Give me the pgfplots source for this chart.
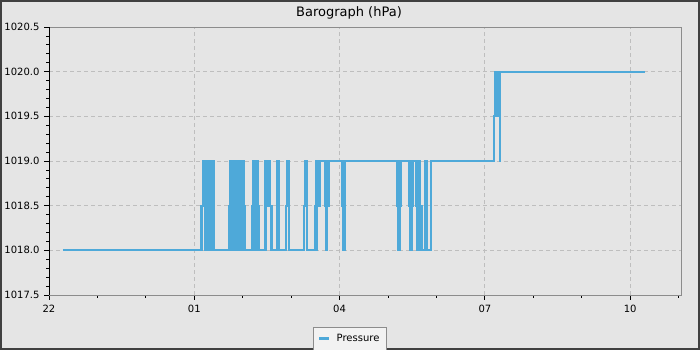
\documentclass[border=0pt]{standalone}
\usepackage{pgfplots}
\pgfplotsset{compat=1.18}
\usepackage{fontspec}
\setmainfont{DejaVu Sans}
\definecolor{bgcol}{RGB}{229,229,229}
\definecolor{framecol}{RGB}{64,64,64}
\definecolor{axcol}{RGB}{140,140,140}
\definecolor{gridcol}{RGB}{190,190,190}
\definecolor{linecol}{RGB}{78,169,217}
\definecolor{legfill}{RGB}{242,242,242}
\begin{document}
\begin{tikzpicture}[x=1pt,y=1pt]
\fill[bgcol] (0,0) rectangle (700,350);
\draw[framecol, line width=2pt] (1,1) rectangle (699,349);
\useasboundingbox (0,0) rectangle (700,350);
\node[font=\fontsize{13}{15}\selectfont, anchor=base] at (349,333) {Barograph (hPa)};
\begin{axis}[
  at={(49pt,55pt)}, anchor=south west,
  width=632pt, height=268pt, scale only axis,
  xmin=0, xmax=13.05, ymin=1017.5, ymax=1020.5,
  axis background/.style={fill=bgcol},
  axis line style={draw=axcol, line width=0.8pt},
  tick pos=left, tick align=outside,
  tick style={black, line width=0.8pt},
  major tick length=5pt, minor tick length=2.7pt,
  xtick={0,3,6,9,12}, xticklabels={22,01,04,07,10},
  minor xtick={1,2,4,5,7,8,10,11,13},
  ytick={1017.5,1018,1018.5,1019,1019.5,1020,1020.5},
  minor y tick num=4,
  yticklabel style={xshift=-1pt, /pgf/number format/fixed, /pgf/number format/fixed zerofill, /pgf/number format/precision=1, /pgf/number format/1000 sep={}},
  ticklabel style={font=\fontsize{10}{12}\selectfont},
  /pgf/number format/assume math mode=true,
  xticklabel style={yshift=-2pt},
  grid=major,
  major grid style={gridcol, line width=0.8pt, dash pattern=on 4pt off 3pt},
  legend style={at={(0.476,-0.119)}, anchor=north, fill=legfill, draw=axcol,
    font=\fontsize{10}{12}\selectfont, inner xsep=5pt, inner ysep=5pt,
    /tikz/every odd column/.append style={column sep=4pt}},
  legend image code/.code={\draw[linecol, line width=2.5pt] (0pt,0pt) -- (10pt,0pt);},
]
\addplot[const plot, color=linecol, line width=2pt] coordinates {
(0.289,1018.0)
(3.138,1018.5)
(3.153,1018.0)
(3.165,1018.5)
(3.180,1019.0)
(3.194,1018.5)
(3.207,1019.0)
(3.221,1018.0)
(3.236,1019.0)
(3.248,1018.5)
(3.262,1019.0)
(3.277,1018.0)
(3.289,1018.5)
(3.304,1018.0)
(3.318,1018.5)
(3.331,1019.0)
(3.345,1018.5)
(3.359,1019.0)
(3.372,1018.0)
(3.386,1019.0)
(3.401,1018.5)
(3.413,1018.0)
(3.717,1018.5)
(3.731,1019.0)
(3.743,1018.5)
(3.758,1018.0)
(3.772,1019.0)
(3.785,1018.5)
(3.799,1019.0)
(3.814,1018.0)
(3.826,1019.0)
(3.841,1018.5)
(3.855,1019.0)
(3.867,1018.0)
(3.882,1019.0)
(3.896,1018.5)
(3.909,1019.0)
(3.923,1018.0)
(3.938,1018.5)
(3.950,1019.0)
(3.964,1018.0)
(3.979,1019.0)
(3.991,1018.5)
(4.006,1018.0)
(4.020,1019.0)
(4.033,1018.5)
(4.047,1018.0)
(4.198,1018.5)
(4.212,1019.0)
(4.227,1018.0)
(4.239,1019.0)
(4.253,1018.5)
(4.268,1019.0)
(4.280,1018.0)
(4.295,1018.5)
(4.309,1019.0)
(4.322,1018.5)
(4.336,1018.0)
(4.460,1019.0)
(4.474,1018.0)
(4.487,1018.5)
(4.501,1019.0)
(4.516,1018.5)
(4.528,1019.0)
(4.543,1018.5)
(4.557,1019.0)
(4.569,1018.5)
(4.584,1018.0)
(4.598,1018.5)
(4.611,1018.0)
(4.702,1019.0)
(4.714,1018.5)
(4.728,1019.0)
(4.743,1018.0)
(4.894,1018.5)
(4.908,1019.0)
(4.920,1018.5)
(4.935,1019.0)
(4.949,1018.5)
(4.962,1018.0)
(5.271,1018.5)
(5.286,1019.0)
(5.300,1018.5)
(5.313,1019.0)
(5.327,1018.0)
(5.492,1018.5)
(5.507,1019.0)
(5.519,1018.0)
(5.534,1019.0)
(5.548,1018.5)
(5.561,1019.0)
(5.575,1018.5)
(5.589,1019.0)
(5.699,1018.5)
(5.713,1019.0)
(5.726,1018.0)
(5.740,1018.5)
(5.755,1019.0)
(5.767,1018.5)
(5.781,1019.0)
(6.050,1018.5)
(6.064,1018.0)
(6.077,1019.0)
(6.091,1018.0)
(6.106,1018.5)
(6.118,1019.0)
(7.192,1018.5)
(7.206,1018.0)
(7.221,1019.0)
(7.233,1018.0)
(7.247,1018.5)
(7.262,1019.0)
(7.433,1018.5)
(7.454,1018.0)
(7.468,1019.0)
(7.481,1018.0)
(7.495,1018.5)
(7.510,1019.0)
(7.578,1018.5)
(7.592,1018.0)
(7.605,1019.0)
(7.619,1018.0)
(7.633,1018.5)
(7.646,1019.0)
(7.660,1018.5)
(7.675,1018.0)
(7.687,1018.5)
(7.702,1018.0)
(7.757,1019.0)
(7.770,1018.0)
(7.784,1019.0)
(7.799,1018.0)
(7.881,1018.5)
(7.894,1019.0)
(9.195,1019.5)
(9.209,1020.0)
(9.223,1019.5)
(9.236,1020.0)
(9.250,1019.5)
(9.265,1020.0)
(9.277,1019.5)
(9.292,1020.0)
(9.306,1019.0)
(9.318,1020.0)
(12.306,1020.0)
};
\addlegendentry{Pressure}
\draw[black, line width=0.8pt] (rel axis cs:0,0) -- (rel axis cs:0,1);
\end{axis}
\end{tikzpicture}
\end{document}
